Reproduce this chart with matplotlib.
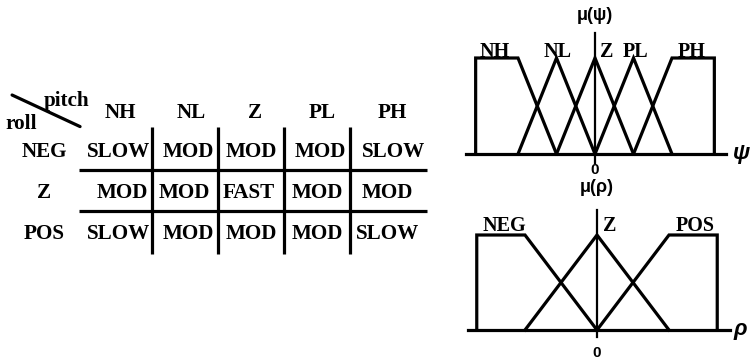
import matplotlib
matplotlib.use("Agg")
import matplotlib.pyplot as plt

# ---------------- data ----------------
pitch_labels = ["NH", "NL", "Z", "PL", "PH"]
roll_labels = ["NEG", "Z", "POS"]
rules = [
    ["SLOW", "MOD", "MOD", "MOD", "SLOW"],
    ["MOD", "MOD", "FAST", "MOD", "MOD"],
    ["SLOW", "MOD", "MOD", "MOD", "SLOW"],
]

psi_sets = ["NH", "NL", "Z", "PL", "PH"]
psi_x = [
    [-3.1, -3.1, -2, -1],
    [-2, -1, 0],
    [-1, 0, 1],
    [0, 1, 2],
    [1, 2, 3.1, 3.1],
]
psi_mu = [
    [0, 1, 1, 0],
    [0, 1, 0],
    [0, 1, 0],
    [0, 1, 0],
    [0, 1, 1, 0],
]
psi_label_x = [-2.6, -0.96, 0.31, 1.04, 2.52]

rho_sets = ["NEG", "Z", "POS"]
rho_x = [
    [-1.67, -1.67, -1, 0],
    [-1, 0, 1],
    [0, 1, 1.67, 1.67],
]
rho_mu = [
    [0, 1, 1, 0],
    [0, 1, 0],
    [0, 1, 1, 0],
]
rho_label_x = [-1.28, 0.18, 1.36]

# ---------------- layout (column units) ----------------
header_shift = [0.015, 0.09, 0.06, 0.076, 0.136]
cell_shift = [
    [0.00, 0.045, 0.00, 0.045, 0.167],
    [0.045, -0.015, -0.03, 0.00, 0.06],
    [0.00, 0.045, 0.00, 0.00, 0.076],
]

# ---------------- figure ----------------
W, H = 750, 360
fig = plt.figure(figsize=(W / 100, H / 100), dpi=100)
serif = ["Liberation Serif", "DejaVu Serif"]
sans = ["Liberation Sans", "DejaVu Sans"]
LW = 2.3

# table axes spanning whole figure; column index / row index coordinates
axT = fig.add_axes([0, 0, 1, 1])
axT.axis("off")
x0, dx = 119, 66
y0, dy = 152, 41
axT.set_xlim((0 - x0) / dx, (W - x0) / dx)
axT.set_ylim((H - y0) / dy, (0 - y0) / dy)

fs = 15.2
for i, lab in enumerate(pitch_labels):
    axT.text(i + header_shift[i], -0.95, lab, ha="center", va="center",
             fontsize=fs, fontweight="bold", family=serif)
for j, lab in enumerate(roll_labels):
    axT.text(-1.136, j, lab, ha="center", va="center", fontsize=fs,
             fontweight="bold", family=serif)
for j, row in enumerate(rules):
    for i, val in enumerate(row):
        axT.text(i + cell_shift[j][i], j, val, ha="center", va="center",
                 fontsize=fs, fontweight="bold", family=serif)
for i in range(len(pitch_labels) - 1):
    axT.plot([i + 0.5, i + 0.5], [-0.61, 2.49], color="black", lw=LW,
             solid_capstyle="butt")
for j in range(len(roll_labels) - 1):
    axT.plot([-0.606, 4.667], [j + 0.44, j + 0.44], color="black", lw=LW,
             solid_capstyle="butt")
axT.plot([-1.62, -0.59], [-1.39, -0.62], color="black", lw=LW,
         solid_capstyle="round")
axT.text(-0.79, -1.24, "pitch", ha="center", va="center", fontsize=fs,
         fontweight="bold", family=serif)
axT.text(-1.485, -0.68, "roll", ha="center", va="center", fontsize=fs,
         fontweight="bold", family=serif)

# ---------------- psi membership functions ----------------
ax1 = fig.add_axes([460 / W, 0.5, 290 / W, 0.5])
ax1.axis("off")
ax1.set_xlim((460 - 595) / 38.5, (750 - 595) / 38.5)
ax1.set_ylim((154 - 180) / 96, 154 / 96)
for xs, ms in zip(psi_x, psi_mu):
    ax1.plot(xs, ms, color="black", lw=LW, solid_joinstyle="miter",
             clip_on=False)
ax1.plot([-3.35, 3.4], [0, 0], color="black", lw=LW, clip_on=False)
ax1.plot([0, 0], [-0.094, 1.26], color="black", lw=1.6, clip_on=False)
for name, lx in zip(psi_sets, psi_label_x):
    ax1.text(lx, 1.01, name, ha="center", va="baseline", fontsize=14.5,
             fontweight="bold", family=serif)
ax1.text(0, 1.44, "μ(ψ)", ha="center", va="center", fontsize=13,
         fontweight="bold", family=sans, clip_on=False)
ax1.text(3.58, 0, "ψ", ha="left", va="center", fontsize=16,
         fontstyle="italic", fontweight="bold", family=sans, clip_on=False)
ax1.text(0, -0.17, "0", ha="center", va="center", fontsize=11,
         fontweight="bold", family=sans, clip_on=False)

# ---------------- rho membership functions ----------------
ax2 = fig.add_axes([460 / W, 0, 290 / W, 0.5])
ax2.axis("off")
ax2.set_xlim((460 - 597) / 72, (750 - 597) / 72)
ax2.set_ylim((330 - 360) / 95, (330 - 180) / 95)
for xs, ms in zip(rho_x, rho_mu):
    ax2.plot(xs, ms, color="black", lw=LW, solid_joinstyle="miter",
             clip_on=False)
ax2.plot([-1.79, 1.85], [0, 0], color="black", lw=LW, clip_on=False)
ax2.plot([0, 0], [-0.074, 1.263], color="black", lw=1.6, clip_on=False)
for name, lx in zip(rho_sets, rho_label_x):
    ax2.text(lx, 1.04, name, ha="center", va="baseline", fontsize=14.5,
             fontweight="bold", family=serif)
ax2.text(0, 1.495, "μ(ρ)", ha="center", va="center", fontsize=13,
         fontweight="bold", family=sans, clip_on=False)
ax2.text(1.9, 0, "ρ", ha="left", va="center", fontsize=16,
         fontstyle="italic", fontweight="bold", family=sans, clip_on=False)
ax2.text(0, -0.24, "0", ha="center", va="center", fontsize=11,
         fontweight="bold", family=sans, clip_on=False)

fig.savefig("out.png", dpi=100)
